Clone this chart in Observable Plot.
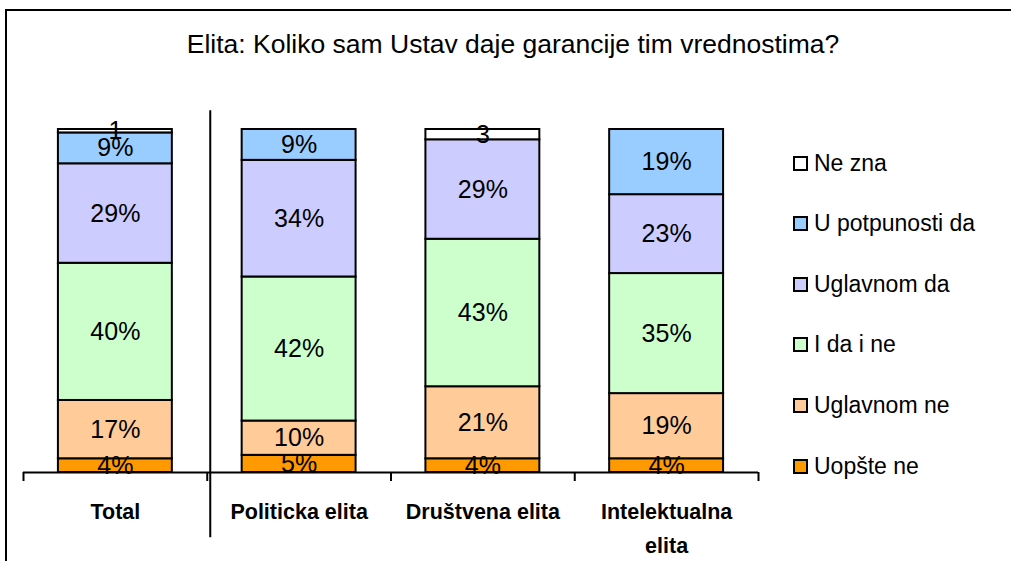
<!DOCTYPE html>
<html><head><meta charset="utf-8">
<script src="https://cdn.jsdelivr.net/npm/d3@7"></script>
<script src="https://cdn.jsdelivr.net/npm/@observablehq/plot@0.6"></script>
<style>
html,body{margin:0;padding:0;background:#fff;overflow:hidden;width:1011px;height:561px;}
#wrap{position:relative;width:1011px;height:561px;font-family:"Liberation Sans",Arial,sans-serif;color:#000;}
#frame{position:absolute;left:5px;top:9px;width:2000px;height:2000px;border:2px solid #000;box-sizing:border-box;}
#title{position:absolute;left:0;width:1026px;top:27px;text-align:center;font-size:26.5px;line-height:34px;white-space:nowrap;}
#chart{position:absolute;left:0;top:100px;}
#legend{position:absolute;left:793px;top:0;}
.row{position:absolute;left:0;height:30px;display:flex;align-items:center;white-space:nowrap;font-size:23px;}
.sw{width:15px;height:15px;border:2px solid #000;box-sizing:border-box;margin-right:6px;flex:none;}
</style></head>
<body>
<div id="wrap">
  <div id="frame"></div>
  <div id="title"></div>
  <div id="chart"></div>
  <div id="legend"></div>
</div>
<script>
const titleText = "Elita: Koliko sam Ustav daje garancije tim vrednostima?";
const categories = ["Total", "Politicka elita", "Društvena elita", "Intelektualna elita"];
const tickLabels = ["Total", "Politicka elita", "Društvena elita", "Intelektualna\nelita"];
const series = ["Uopšte ne", "Uglavnom ne", "I da i ne", "Uglavnom da", "U potpunosti da", "Ne zna"];
const colors = ["#FF9900", "#FFCC99", "#CCFFCC", "#CCCCFF", "#99CCFF", "#FFFFFF"];
const uopsteNe      = [4, 5, 4, 4];
const uglavnomNe    = [17, 10, 21, 19];
const daINe         = [40, 42, 43, 35];
const uglavnomDa    = [29, 34, 29, 23];
const uPotpunostiDa = [9, 9, 0, 19];
const neZna         = [1, 0, 3, 0];
const seriesValues = [uopsteNe, uglavnomNe, daINe, uglavnomDa, uPotpunostiDa, neZna];
const percentSeries = [true, true, true, true, true, false];

// build stacked table
const rows = [];
categories.forEach((c, i) => {
  let acc = 0;
  series.forEach((s, k) => {
    const v = seriesValues[k][i];
    if (!v) return;
    rows.push({cat: i, name: c, series: s, y1: acc, y2: acc + v, label: percentSeries[k] ? v + "%" : String(v)});
    acc += v;
  });
});

const inset = 0.19; // bar inset within each category slot (style)
const font = "Liberation Sans, Arial, sans-serif";

document.getElementById("title").textContent = titleText;

const chart = Plot.plot({
  width: 1011,
  height: 461,
  marginTop: 29,
  marginBottom: 89,
  marginLeft: 23,
  marginRight: 253,
  style: {background: "none", fontFamily: font, color: "#000"},
  x: {type: "linear", domain: [0, categories.length], axis: null},
  y: {domain: [0, 100], axis: null},
  color: {domain: series, range: colors},
  marks: [
    Plot.rect(rows, {x1: d => d.cat + inset, x2: d => d.cat + 1 - inset, y1: "y1", y2: "y2", fill: "series", stroke: "#000", strokeWidth: 2}),
    Plot.ruleY([0], {stroke: "#000", strokeWidth: 2}),
    Plot.axisX({ticks: d3.range(categories.length + 1), tickSize: 9, tickFormat: () => "", stroke: "#000", strokeWidth: 2}),
    Plot.axisX({ticks: categories.map((c, i) => i + 0.5), tickSize: 0, tickPadding: 22,
      tickFormat: d => tickLabels[Math.floor(d)], fontWeight: "bold", fontSize: 21.5, lineHeight: 1.58,
      fontFamily: font, fill: "#000"}),
    Plot.ruleX([1], {y1: -19, y2: 105.5, stroke: "#000", strokeWidth: 2, dx: 3}),
    Plot.text(rows, {x: d => d.cat + 0.5, y: d => (d.y1 + d.y2) / 2, text: "label", fontSize: 25, fill: "#000", fontFamily: font})
  ]
});
document.getElementById("chart").appendChild(chart);

// legend (top to bottom: reversed series order)
const legend = document.getElementById("legend");
const legendTop = 148, legendStep = 60.6;
series.slice().reverse().forEach((s, j) => {
  const k = series.length - 1 - j;
  const row = document.createElement("div");
  row.className = "row";
  row.style.top = (legendTop + j * legendStep) + "px";
  const sw = document.createElement("div");
  sw.className = "sw";
  sw.style.background = colors[k];
  const t = document.createElement("span");
  t.textContent = s;
  row.appendChild(sw);
  row.appendChild(t);
  legend.appendChild(row);
});
</script>
</body></html>
